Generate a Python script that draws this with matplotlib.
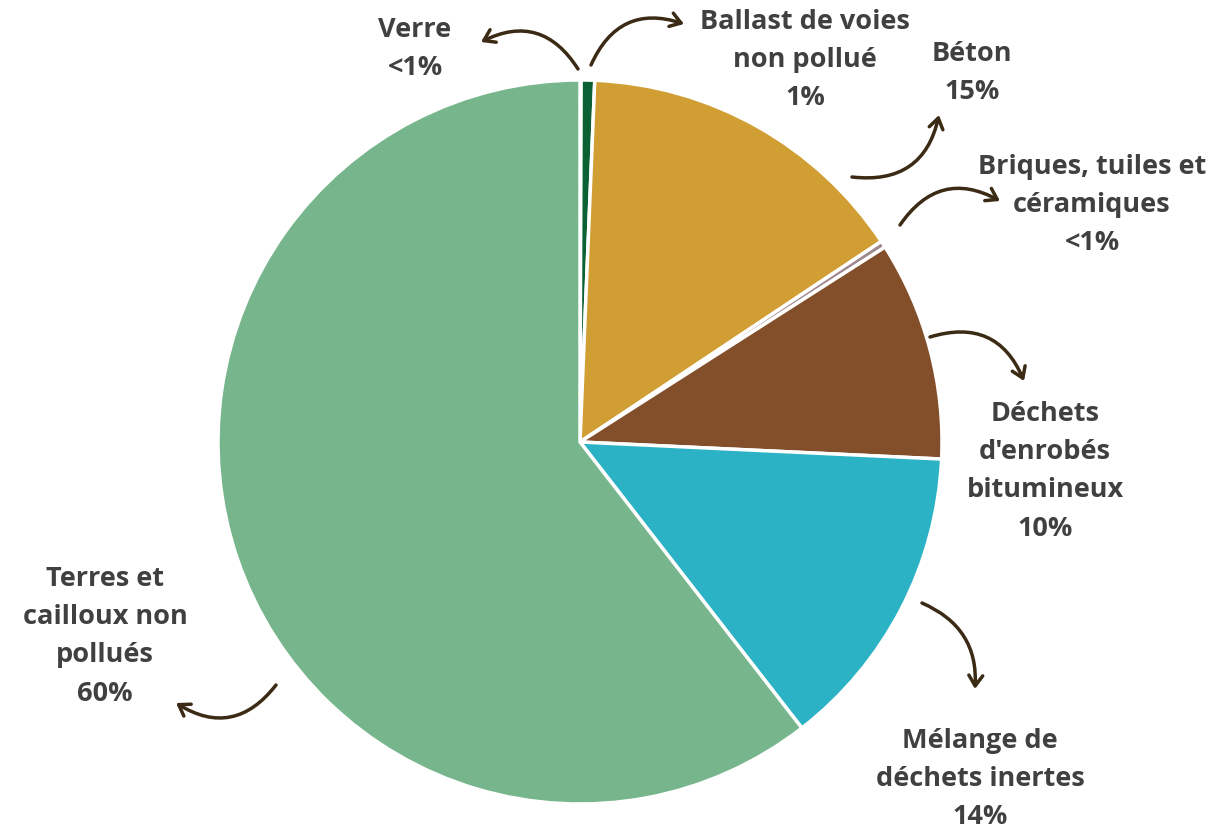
import matplotlib.pyplot as plt

# données
categories = ["Verre", "Ballast de voies\nnon pollué", "Béton", "Briques, tuiles et\ncéramiques",
              "Déchets\nd'enrobés\nbitumineux", "Mélange de\ndéchets inertes", "Terres et\ncailloux non\npollués"]
values = [0.05, 0.6, 15.0, 0.3, 9.8, 13.75, 60.5]
pct_labels = ["<1%", "1%", "15%", "<1%", "10%", "14%", "60%"]
colors = ["#0B6133", "#0B6133", "#D09E33", "#9E8A8E", "#834F2A", "#2CB2C5", "#77B68C"]

W, H = 1211, 828

fig = plt.figure(figsize=(W / 100, H / 100), dpi=100)
ax = fig.add_axes([0, 0, 1, 1])

ax.pie(values, colors=colors, startangle=90, counterclock=False,
       center=(580, H - 443), radius=362,
       wedgeprops=dict(edgecolor='white', linewidth=2.5))

ax.set_xlim(0, W)
ax.set_ylim(0, H)
ax.set_aspect('equal')
ax.axis('off')

# position du texte (centre, haut) et flèche (départ -> arrivée), en pixels image
label_pos = [(415, 17), (805, 9), (972, 41), (1092, 154), (1045, 401), (980, 728), (105, 566)]
arrows = [((578, 70), (481, 43), 0.45),
          ((591, 66), (684, 25), -0.45),
          ((852, 178), (939, 116), 0.45),
          ((900, 226), (1000, 202), -0.45),
          ((930, 338), (1024, 382), -0.45),
          ((922, 604), (975, 690), -0.35),
          ((276, 686), (176, 704), -0.45)]

arrow_col = "#3B2A14"
for name, pct, (x, y), (tail, head, rad) in zip(categories, pct_labels, label_pos, arrows):
    ax.text(x, H - y, name + "\n" + pct, ha='center', va='top', fontsize=19.5,
            fontweight='bold', color='#404040', family='Open Sans', linespacing=1.61)
    ax.annotate("", xy=(head[0], H - head[1]), xytext=(tail[0], H - tail[1]),
                arrowprops=dict(arrowstyle='->,head_length=0.75,head_width=0.5',
                                connectionstyle=f'arc3,rad={rad}', lw=2.5,
                                color=arrow_col, shrinkA=0, shrinkB=0))

fig.savefig("out.png", dpi=100)
